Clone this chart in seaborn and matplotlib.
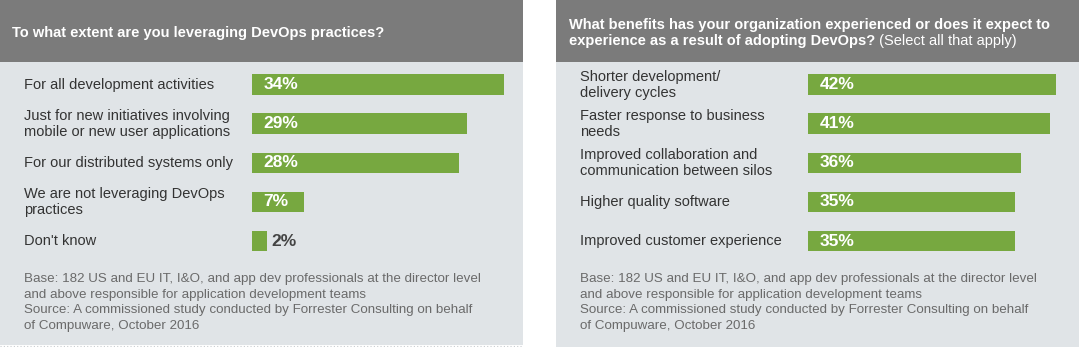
import matplotlib
matplotlib.use("Agg")
import matplotlib.pyplot as plt
import matplotlib.transforms as mtransforms
from matplotlib.patches import Rectangle
from matplotlib.lines import Line2D
from matplotlib.text import Annotation
import seaborn as sns
import pandas as pd

# ---------------- data ----------------
left_title = "To what extent are you leveraging DevOps practices?"
left_categories = [
    "For all development activities",
    "Just for new initiatives involving\nmobile or new user applications",
    "For our distributed systems only",
    "We are not leveraging DevOps\npractices",
    "Don't know",
]
left_values = [34, 29, 28, 7, 2]

right_title_bold_1 = "What benefits has your organization experienced or does it expect to"
right_title_bold_2 = "experience as a result of adopting DevOps?"
right_title_normal = " (Select all that apply)"
right_categories = [
    "Shorter development/\ndelivery cycles",
    "Faster response to business\nneeds",
    "Improved collaboration and\ncommunication between silos",
    "Higher quality software",
    "Improved customer experience",
]
right_values = [42, 41, 36, 35, 35]

footnote = ("Base: 182 US and EU IT, I&O, and app dev professionals at the director level\n"
            "and above responsible for application development teams\n"
            "Source: A commissioned study conducted by Forrester Consulting on behalf\n"
            "of Compuware, October 2016")

# ---------------- style ----------------
sns.set_style("white")
plt.rcParams["font.family"] = ["Liberation Sans", "DejaVu Sans"]

W, H = 1080, 347
HEADER = "#7b7b7b"
BODY = "#e0e4e7"
GREEN = "#77a840"
LABEL = "#333333"
FOOT = "#6a6a6a"

fig = plt.figure(figsize=(W / 100, H / 100), dpi=100)
fig.patch.set_facecolor("white")


def fx(x):
    return x / W


def fy(y):
    return 1 - y / H


def rect(x0, y0, x1, y1, color):
    fig.add_artist(Rectangle((fx(x0), fy(y1)), fx(x1) - fx(x0), (y1 - y0) / H,
                             transform=fig.transFigure, facecolor=color,
                             edgecolor="none", zorder=0))


# panels
rect(0, 0, 523, 62, HEADER)
rect(0, 62, 523, 345, BODY)
rect(556, 0, 1079, 62, HEADER)
rect(556, 62, 1079, 347, BODY)
fig.add_artist(Line2D([fx(0), fx(523)], [fy(345.5), fy(345.5)], transform=fig.transFigure,
                      color="#c9cdd0", lw=0.8, ls=(0, (1, 2))))

# headers
fig.text(fx(12), fy(33.4), left_title, color="white", fontsize=10.5,
         fontweight="bold", va="center", ha="left")
fig.text(fx(569), fy(25), right_title_bold_1, color="white", fontsize=10.5,
         fontweight="bold", va="center", ha="left")
t2 = fig.text(fx(569), fy(41.3), right_title_bold_2, color="white", fontsize=10.5,
              fontweight="bold", va="center", ha="left")
ann = Annotation(right_title_normal, xy=(1, 0), xycoords=t2, va="bottom", ha="left",
                 color="white", fontsize=10.5, annotation_clip=False)
fig.add_artist(ann)

# bar axes
row_top, row_step = 84.7, 39.08
y_top = row_top - row_step / 2
y_bot = row_top + row_step * 4 + row_step / 2


def bar_panel(categories, values, x0, px_per, xmax, label_x):
    width_px = px_per * xmax
    ax = fig.add_axes([fx(x0), fy(y_bot), width_px / W, (y_bot - y_top) / H])
    ax.patch.set_alpha(0)
    df = pd.DataFrame({"cat": categories, "val": values})
    sns.barplot(data=df, x="val", y="cat", order=categories, orient="h",
                color=GREEN, saturation=1, width=0.53, linewidth=0, ax=ax)
    ax.set_xlim(0, xmax)
    ax.set_ylim(len(categories) - 0.5, -0.5)
    ax.axis("off")
    tr = mtransforms.blended_transform_factory(fig.transFigure, ax.transData)
    for i, (c, v) in enumerate(zip(categories, values)):
        fig.text(fx(label_x), i, c, transform=tr, va="center", ha="left",
                 fontsize=10.5, color=LABEL, linespacing=1.2)
        if v >= 5:
            ax.annotate(f"{v}%", xy=(0, i), xytext=(8.0, 0), textcoords="offset points",
                        va="center", ha="left", color="white", fontsize=12.5,
                        fontweight="bold")
        else:
            ax.annotate(f"{v}%", xy=(v, i), xytext=(3.0, 0), textcoords="offset points",
                        va="center", ha="left", color="#444444", fontsize=12.5,
                        fontweight="bold")
    return ax


bar_panel(left_categories, left_values, 252.3, 7.39, 36, 24)
bar_panel(right_categories, right_values, 808.3, 5.9, 45, 580)

# footnotes
for xx in (24, 580):
    fig.text(fx(xx), fy(302.5), footnote, va="center", ha="left", fontsize=9.6,
             color=FOOT, linespacing=1.38)

fig.savefig("out.png", dpi=100, facecolor="white")
